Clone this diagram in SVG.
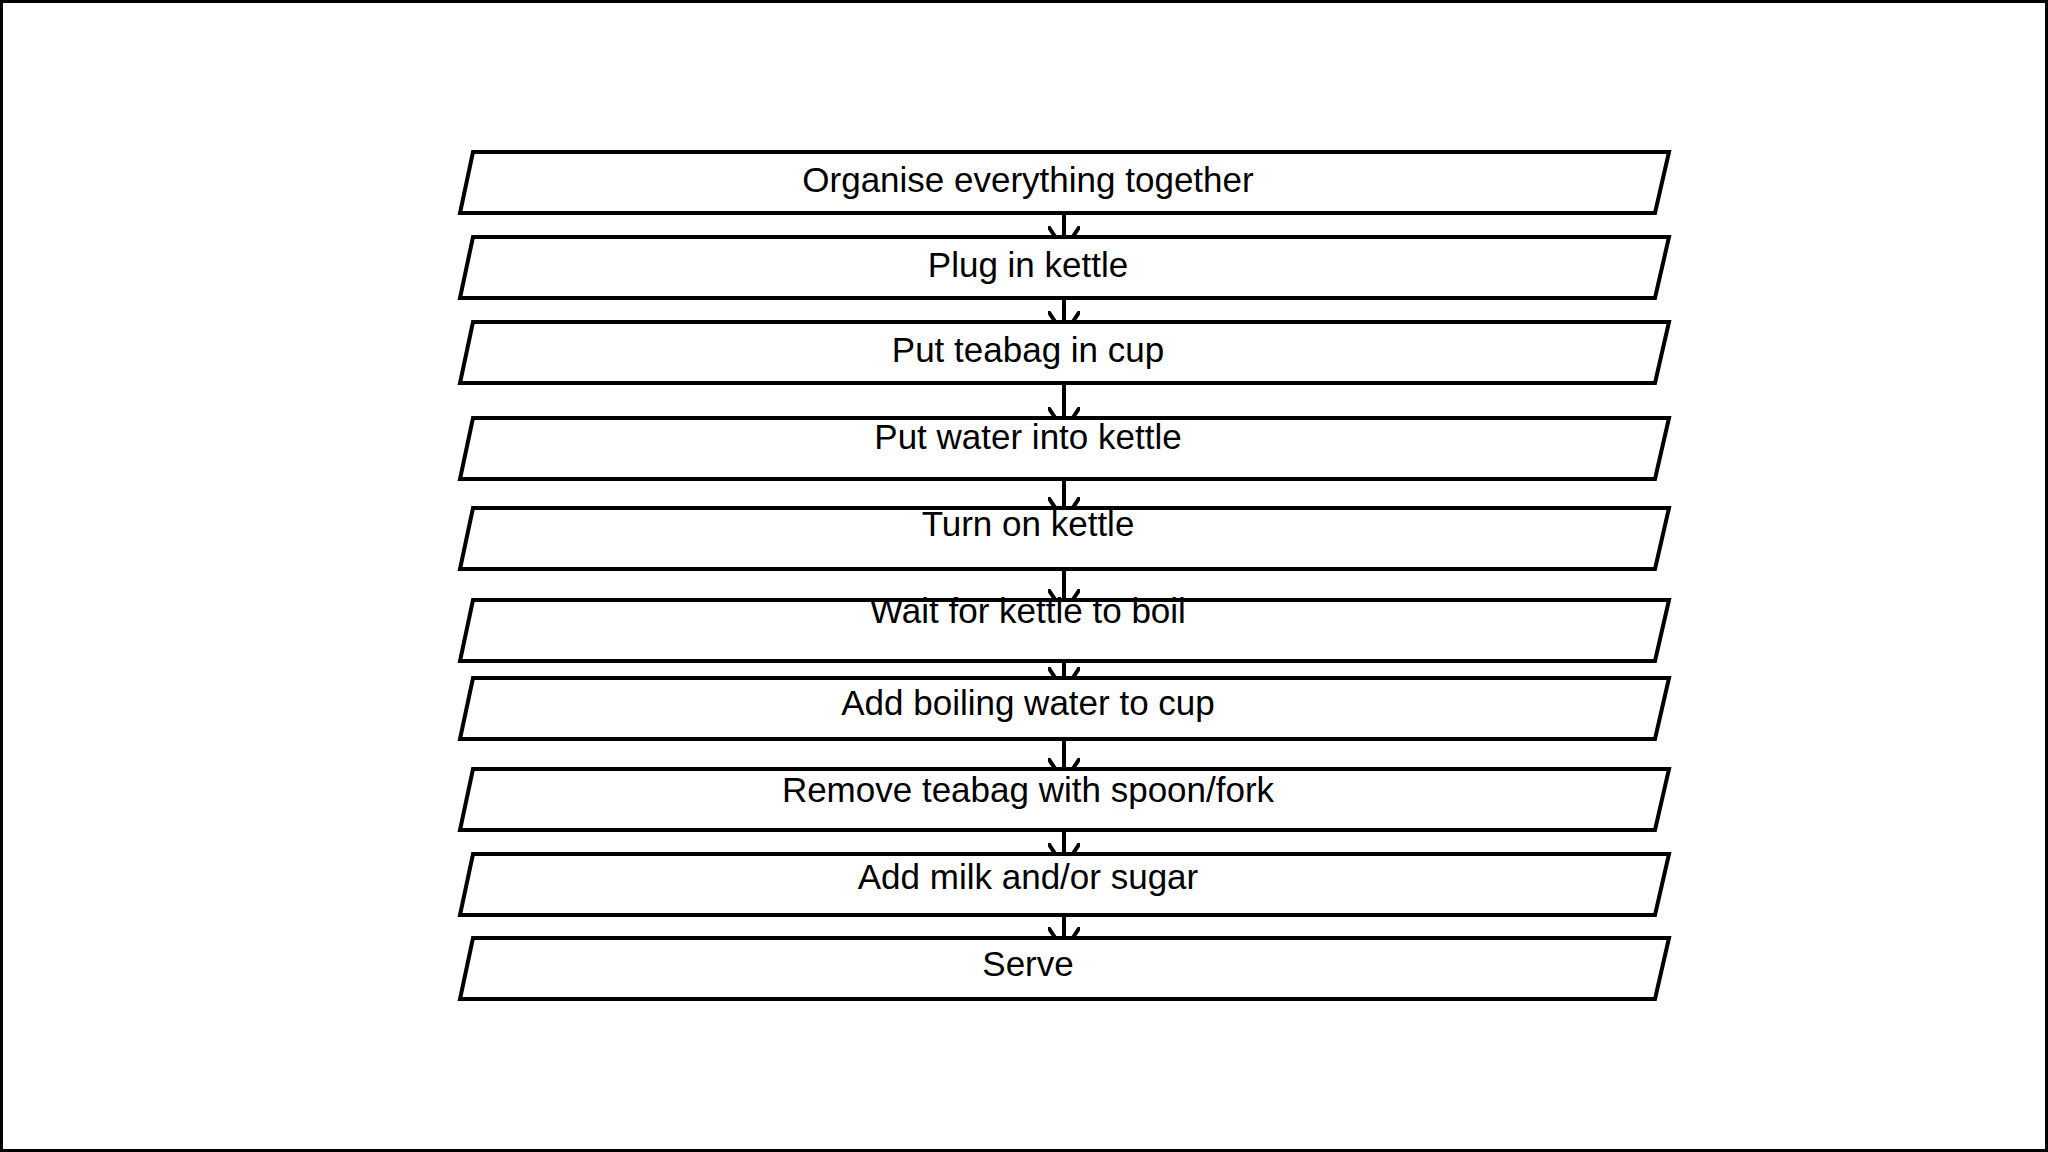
<svg xmlns="http://www.w3.org/2000/svg" width="2048" height="1152" viewBox="0 0 2048 1152">
<style>
.b{fill:#fff;stroke:#000;stroke-width:4}
.t{font-family:"Liberation Sans",Arial,sans-serif;font-size:35px;text-anchor:middle;fill:#000}
.c{stroke:#000;stroke-width:4;fill:none}
</style>
<defs><marker id="a" markerWidth="8" markerHeight="8" refX="6" refY="4" orient="auto" markerUnits="strokeWidth"><path d="M0,0 L6,4 L0,8" fill="none" stroke="#000" stroke-width="1"/></marker></defs>
<rect x="1.5" y="1.5" width="2045" height="1149" fill="#fff" stroke="#000" stroke-width="3"/>
<g id="connectors">
<line class="c" x1="1064" y1="213" x2="1064" y2="250" marker-end="url(#a)"/>
<line class="c" x1="1064" y1="298" x2="1064" y2="335" marker-end="url(#a)"/>
<line class="c" x1="1064" y1="383" x2="1064" y2="431" marker-end="url(#a)"/>
<line class="c" x1="1064" y1="479" x2="1064" y2="521" marker-end="url(#a)"/>
<line class="c" x1="1064" y1="569" x2="1064" y2="613" marker-end="url(#a)"/>
<line class="c" x1="1064" y1="661" x2="1064" y2="691" marker-end="url(#a)"/>
<line class="c" x1="1064" y1="739" x2="1064" y2="782" marker-end="url(#a)"/>
<line class="c" x1="1064" y1="830" x2="1064" y2="867" marker-end="url(#a)"/>
<line class="c" x1="1064" y1="915" x2="1064" y2="951" marker-end="url(#a)"/>
</g>
<g id="n1"><path class="b" d="M473,152 H1669 L1655,213 H460 Z"/><text class="t" x="1028" y="192">Organise everything together</text></g>
<g id="n2"><path class="b" d="M473,237 H1669 L1655,298 H460 Z"/><text class="t" x="1028" y="277">Plug in kettle</text></g>
<g id="n3"><path class="b" d="M473,322 H1669 L1655,383 H460 Z"/><text class="t" x="1028" y="362">Put teabag in cup</text></g>
<g id="n4"><path class="b" d="M473,418 H1669 L1655,479 H460 Z"/><text class="t" x="1028" y="449">Put water into kettle</text></g>
<g id="n5"><path class="b" d="M473,508 H1669 L1655,569 H460 Z"/><text class="t" x="1028" y="536">Turn on kettle</text></g>
<g id="n6"><path class="b" d="M473,600 H1669 L1655,661 H460 Z"/><text class="t" x="1028" y="623">Wait for kettle to boil</text></g>
<g id="n7"><path class="b" d="M473,678 H1669 L1655,739 H460 Z"/><text class="t" x="1028" y="715">Add boiling water to cup</text></g>
<g id="n8"><path class="b" d="M473,769 H1669 L1655,830 H460 Z"/><text class="t" x="1028" y="802">Remove teabag with spoon/fork</text></g>
<g id="n9"><path class="b" d="M473,854 H1669 L1655,915 H460 Z"/><text class="t" x="1028" y="889">Add milk and/or sugar</text></g>
<g id="n10"><path class="b" d="M473,938 H1669 L1655,999 H460 Z"/><text class="t" x="1028" y="976">Serve</text></g>
</svg>
